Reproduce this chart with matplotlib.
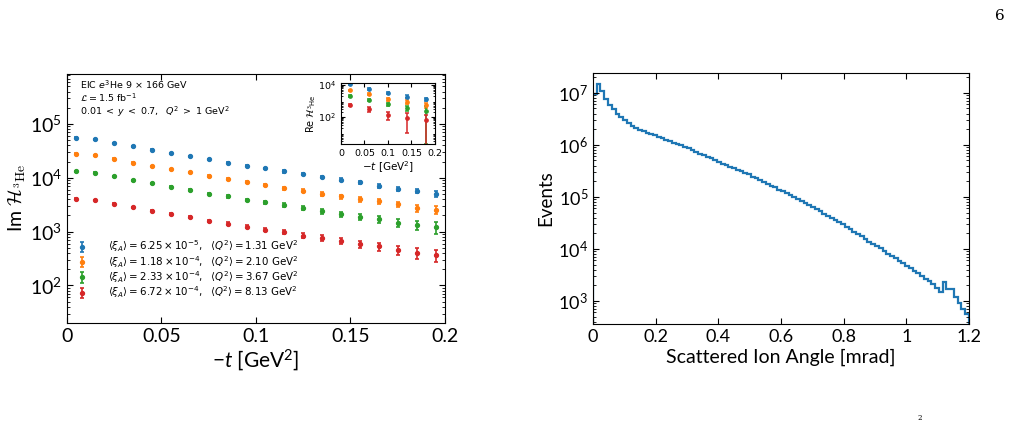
import numpy as np
import matplotlib.pyplot as plt
from matplotlib.font_manager import FontProperties
from matplotlib.ticker import LogLocator, FixedLocator, NullFormatter

plt.rcParams['font.family'] = 'Lato'
plt.rcParams['mathtext.fontset'] = 'custom'
plt.rcParams['mathtext.rm'] = 'Lato'
plt.rcParams['mathtext.it'] = 'Lato:italic'
plt.rcParams['mathtext.bf'] = 'Lato:bold'

# ---- left panel: Im H for four (xi, Q2) bins ----
t_vals = [0.005, 0.015, 0.025, 0.035, 0.045, 0.055, 0.065, 0.075, 0.085, 0.095,
          0.105, 0.115, 0.125, 0.135, 0.145, 0.155, 0.165, 0.175, 0.185, 0.195]

im_blue = [5.57e4, 5.2e4, 4.44e4, 3.86e4, 3.35e4, 2.87e4, 2.52e4, 2.22e4, 1.92e4, 1.69e4,
           1.49e4, 1.31e4, 1.19e4, 1.04e4, 9.2e3, 8.2e3, 7.1e3, 6.2e3, 5.7e3, 5.1e3]
im_orange = [2.82e4, 2.63e4, 2.25e4, 1.92e4, 1.64e4, 1.43e4, 1.26e4, 1.09e4, 9.6e3, 8.4e3,
             7.4e3, 6.4e3, 5.7e3, 5.0e3, 4.5e3, 4.0e3, 3.65e3, 3.2e3, 2.74e3, 2.55e3]
im_green = [1.31e4, 1.24e4, 1.06e4, 9.06e3, 7.85e3, 6.81e3, 5.9e3, 5.1e3, 4.5e3, 3.9e3,
            3.5e3, 3.1e3, 2.7e3, 2.4e3, 2.1e3, 1.9e3, 1.72e3, 1.47e3, 1.33e3, 1.2e3]
im_red = [4.08e3, 3.85e3, 3.3e3, 2.82e3, 2.45e3, 2.12e3, 1.84e3, 1.6e3, 1.41e3, 1.24e3,
          1.09e3, 973, 843, 764, 672, 591, 535, 458, 408, 365]

# relative errors
err_blue = [0.01, 0.01, 0.012, 0.014, 0.016, 0.02, 0.022, 0.025, 0.03, 0.035,
            0.04, 0.045, 0.05, 0.055, 0.06, 0.07, 0.08, 0.09, 0.1, 0.12]
err_orange = [0.012, 0.013, 0.015, 0.018, 0.022, 0.026, 0.03, 0.035, 0.04, 0.045,
              0.05, 0.06, 0.065, 0.075, 0.085, 0.095, 0.11, 0.12, 0.14, 0.16]
err_green = [0.014, 0.015, 0.018, 0.022, 0.026, 0.03, 0.035, 0.04, 0.05, 0.055,
             0.065, 0.075, 0.085, 0.1, 0.11, 0.13, 0.15, 0.17, 0.2, 0.24]
err_red = [0.015, 0.017, 0.02, 0.024, 0.028, 0.033, 0.04, 0.045, 0.055, 0.065,
           0.075, 0.085, 0.1, 0.11, 0.13, 0.15, 0.17, 0.2, 0.23, 0.27]

labels = [r'$\langle\xi_A\rangle = 6.25\times10^{-5},\ \ \langle Q^2\rangle = 1.31\ \mathrm{GeV}^2$',
          r'$\langle\xi_A\rangle = 1.18\times10^{-4},\ \ \langle Q^2\rangle = 2.10\ \mathrm{GeV}^2$',
          r'$\langle\xi_A\rangle = 2.33\times10^{-4},\ \ \langle Q^2\rangle = 3.67\ \mathrm{GeV}^2$',
          r'$\langle\xi_A\rangle = 6.72\times10^{-4},\ \ \langle Q^2\rangle = 8.13\ \mathrm{GeV}^2$']
colors = ['#1f77b4', '#ff7f0e', '#2ca02c', '#d62728']

info_lines = ['EIC $e^3$He 9 $\\times$ 166 GeV',
              '$\\mathcal{L} = 1.5$ fb$^{-1}$',
              '$0.01 \\;<\\; y \\;<\\; 0.7,\\ \\ Q^2 \\;>\\; 1$ GeV$^2$']

# ---- inset: Re H ----
t_inset = [0.02, 0.06, 0.10, 0.14, 0.18]
re_blue = [1.1e4, 5.4e3, 2.95e3, 1.8e3, 1.24e3]
re_orange = [4.6e3, 2.6e3, 1.24e3, 850, 520]
re_green = [2.0e3, 1.13e3, 600, 350, 230]
re_red = [550, 311, 129, 86, 60]
re_err_blue = [800, 500, 400, 350, 300]
re_err_orange = [400, 300, 250, 220, 180]
re_err_green = [200, 150, 130, 110, 228]
re_err_red = [60, 115, 67, 76, 65]

# ---- right panel: scattered ion angle histogram (log10 counts per bin) ----
angle_edges = np.linspace(0, 1.2, 101)
log_counts = [6.98, 7.17, 7.03, 6.88, 6.77, 6.68, 6.60, 6.53, 6.47, 6.42,
              6.37, 6.33, 6.29, 6.26, 6.23, 6.20, 6.18, 6.16, 6.13, 6.10,
              6.07, 6.04, 6.01, 5.99, 5.96, 5.93, 5.90, 5.86, 5.83, 5.80,
              5.77, 5.74, 5.70, 5.67, 5.64, 5.61, 5.58, 5.55, 5.52, 5.49,
              5.46, 5.43, 5.39, 5.36, 5.32, 5.28, 5.25, 5.21, 5.18, 5.14,
              5.11, 5.07, 5.03, 4.99, 4.95, 4.92, 4.88, 4.84, 4.80, 4.76,
              4.72, 4.68, 4.63, 4.59, 4.55, 4.51, 4.47, 4.42, 4.38, 4.33,
              4.28, 4.24, 4.19, 4.14, 4.10, 4.05, 4.01, 3.96, 3.91, 3.87,
              3.82, 3.77, 3.73, 3.68, 3.63, 3.58, 3.53, 3.48, 3.43, 3.38,
              3.33, 3.24, 3.17, 3.37, 3.22, 3.22, 3.08, 2.96, 2.85, 2.75]

fig = plt.figure(figsize=(10.1, 4.23), dpi=100)


def style_axes(ax, size):
    ax.tick_params(which='both', direction='in', top=True, right=True, labelsize=size)
    ax.tick_params(which='major', length=4)
    ax.tick_params(which='minor', length=2)
    ax.yaxis.set_minor_locator(LogLocator(base=10, subs=np.arange(2, 10), numticks=20))
    ax.yaxis.set_minor_formatter(NullFormatter())


# left
ax = fig.add_axes([0.0663, 0.2364, 0.3743, 0.5887])
dv = FontProperties(family='DejaVu Sans', size=6.8, math_fontfamily='dejavusans')
dv_leg = FontProperties(family='DejaVu Sans', size=7.4, math_fontfamily='dejavusans')
for vals, errs, c, lab in zip([im_blue, im_orange, im_green, im_red],
                              [err_blue, err_orange, err_green, err_red], colors, labels):
    v = np.array(vals)
    ax.errorbar(t_vals, v, yerr=v * np.array(errs), fmt='o', ms=2.8, color=c,
                capsize=1.6, elinewidth=1.2, capthick=1.2, label=lab)
ax.set_yscale('log')
ax.set_xlim(0, 0.2)
ax.set_ylim(20, 8.5e5)
ax.set_xticks([0, 0.05, 0.1, 0.15, 0.2])
ax.set_xticklabels(['0', '0.05', '0.1', '0.15', '0.2'])
ax.yaxis.set_major_locator(LogLocator(base=10, numticks=10))
style_axes(ax, 14)
ax.set_xlabel(r'$-t$ [GeV$^2$]', fontsize=15, labelpad=2)
ax.set_ylabel(r'Im $\mathcal{H}_{^3\mathrm{He}}$', fontsize=14, math_fontfamily='cm', labelpad=1)
ax.legend(loc='lower left', bbox_to_anchor=(0.0, 0.05), prop=dv_leg, frameon=False,
          handlelength=1.0, handletextpad=2.0, labelspacing=-0.05, borderaxespad=0.6)
for line, yy in zip(info_lines, [0.956, 0.903, 0.847]):
    ax.text(0.035, yy, line, transform=ax.transAxes, va='center', ha='left', fontproperties=dv)

# inset
axin = fig.add_axes([0.3376, 0.6596, 0.0931, 0.1442])
for vals, errs, c in zip([re_blue, re_orange, re_green, re_red],
                         [re_err_blue, re_err_orange, re_err_green, re_err_red], colors):
    axin.errorbar(t_inset, vals, yerr=errs, fmt='o', ms=2.4, color=c,
                  capsize=1.3, elinewidth=1.1, capthick=1.1)
axin.set_yscale('log')
axin.set_xlim(0, 0.2)
axin.set_ylim(2, 1.3e4)
axin.set_xticks([0, 0.05, 0.1, 0.15, 0.2])
axin.set_xticklabels(['0', '0.05', '0.1', '0.15', '0.2'], family='DejaVu Sans')
axin.yaxis.set_major_locator(FixedLocator([1e2, 1e4]))
axin.set_yticklabels([r'$10^2$', r'$10^4$'], math_fontfamily='dejavusans')
style_axes(axin, 6.8)
axin.tick_params(which='major', length=3)
axin.tick_params(which='minor', length=1.5)
axin.set_xlabel(r'$-t$ [GeV$^2$]', fontsize=7.5, family='DejaVu Sans',
                math_fontfamily='dejavusans', labelpad=1)
axin.set_ylabel(r'Re $\mathcal{H}_{^3\mathrm{He}}$', fontsize=7, family='DejaVu Sans',
                math_fontfamily='dejavusans', labelpad=0)

# right
ax2 = fig.add_axes([0.5871, 0.234, 0.3723, 0.5934])
ax2.stairs(10 ** np.array(log_counts), angle_edges, baseline=1, color='#1f77b4', lw=1.6)
ax2.set_yscale('log')
ax2.set_xlim(0, 1.2)
ax2.set_ylim(360, 2.4e7)
ax2.set_xticks([0, 0.2, 0.4, 0.6, 0.8, 1.0, 1.2])
ax2.set_xticklabels(['0', '0.2', '0.4', '0.6', '0.8', '1', '1.2'])
ax2.yaxis.set_major_locator(LogLocator(base=10, numticks=10))
style_axes(ax2, 13)
ax2.set_xlabel('Scattered Ion Angle [mrad]', fontsize=14, labelpad=3)
ax2.set_ylabel('Events', fontsize=13.5, labelpad=3)

# page number / cut-off text from the document
fig.text(0.995, 0.963, '6', family='DejaVu Serif', fontsize=11, ha='right', va='center')
fig.text(0.911, 0.012, '2', family='DejaVu Serif', fontsize=5, ha='center', va='center')

fig.savefig('out.png', dpi=100)
